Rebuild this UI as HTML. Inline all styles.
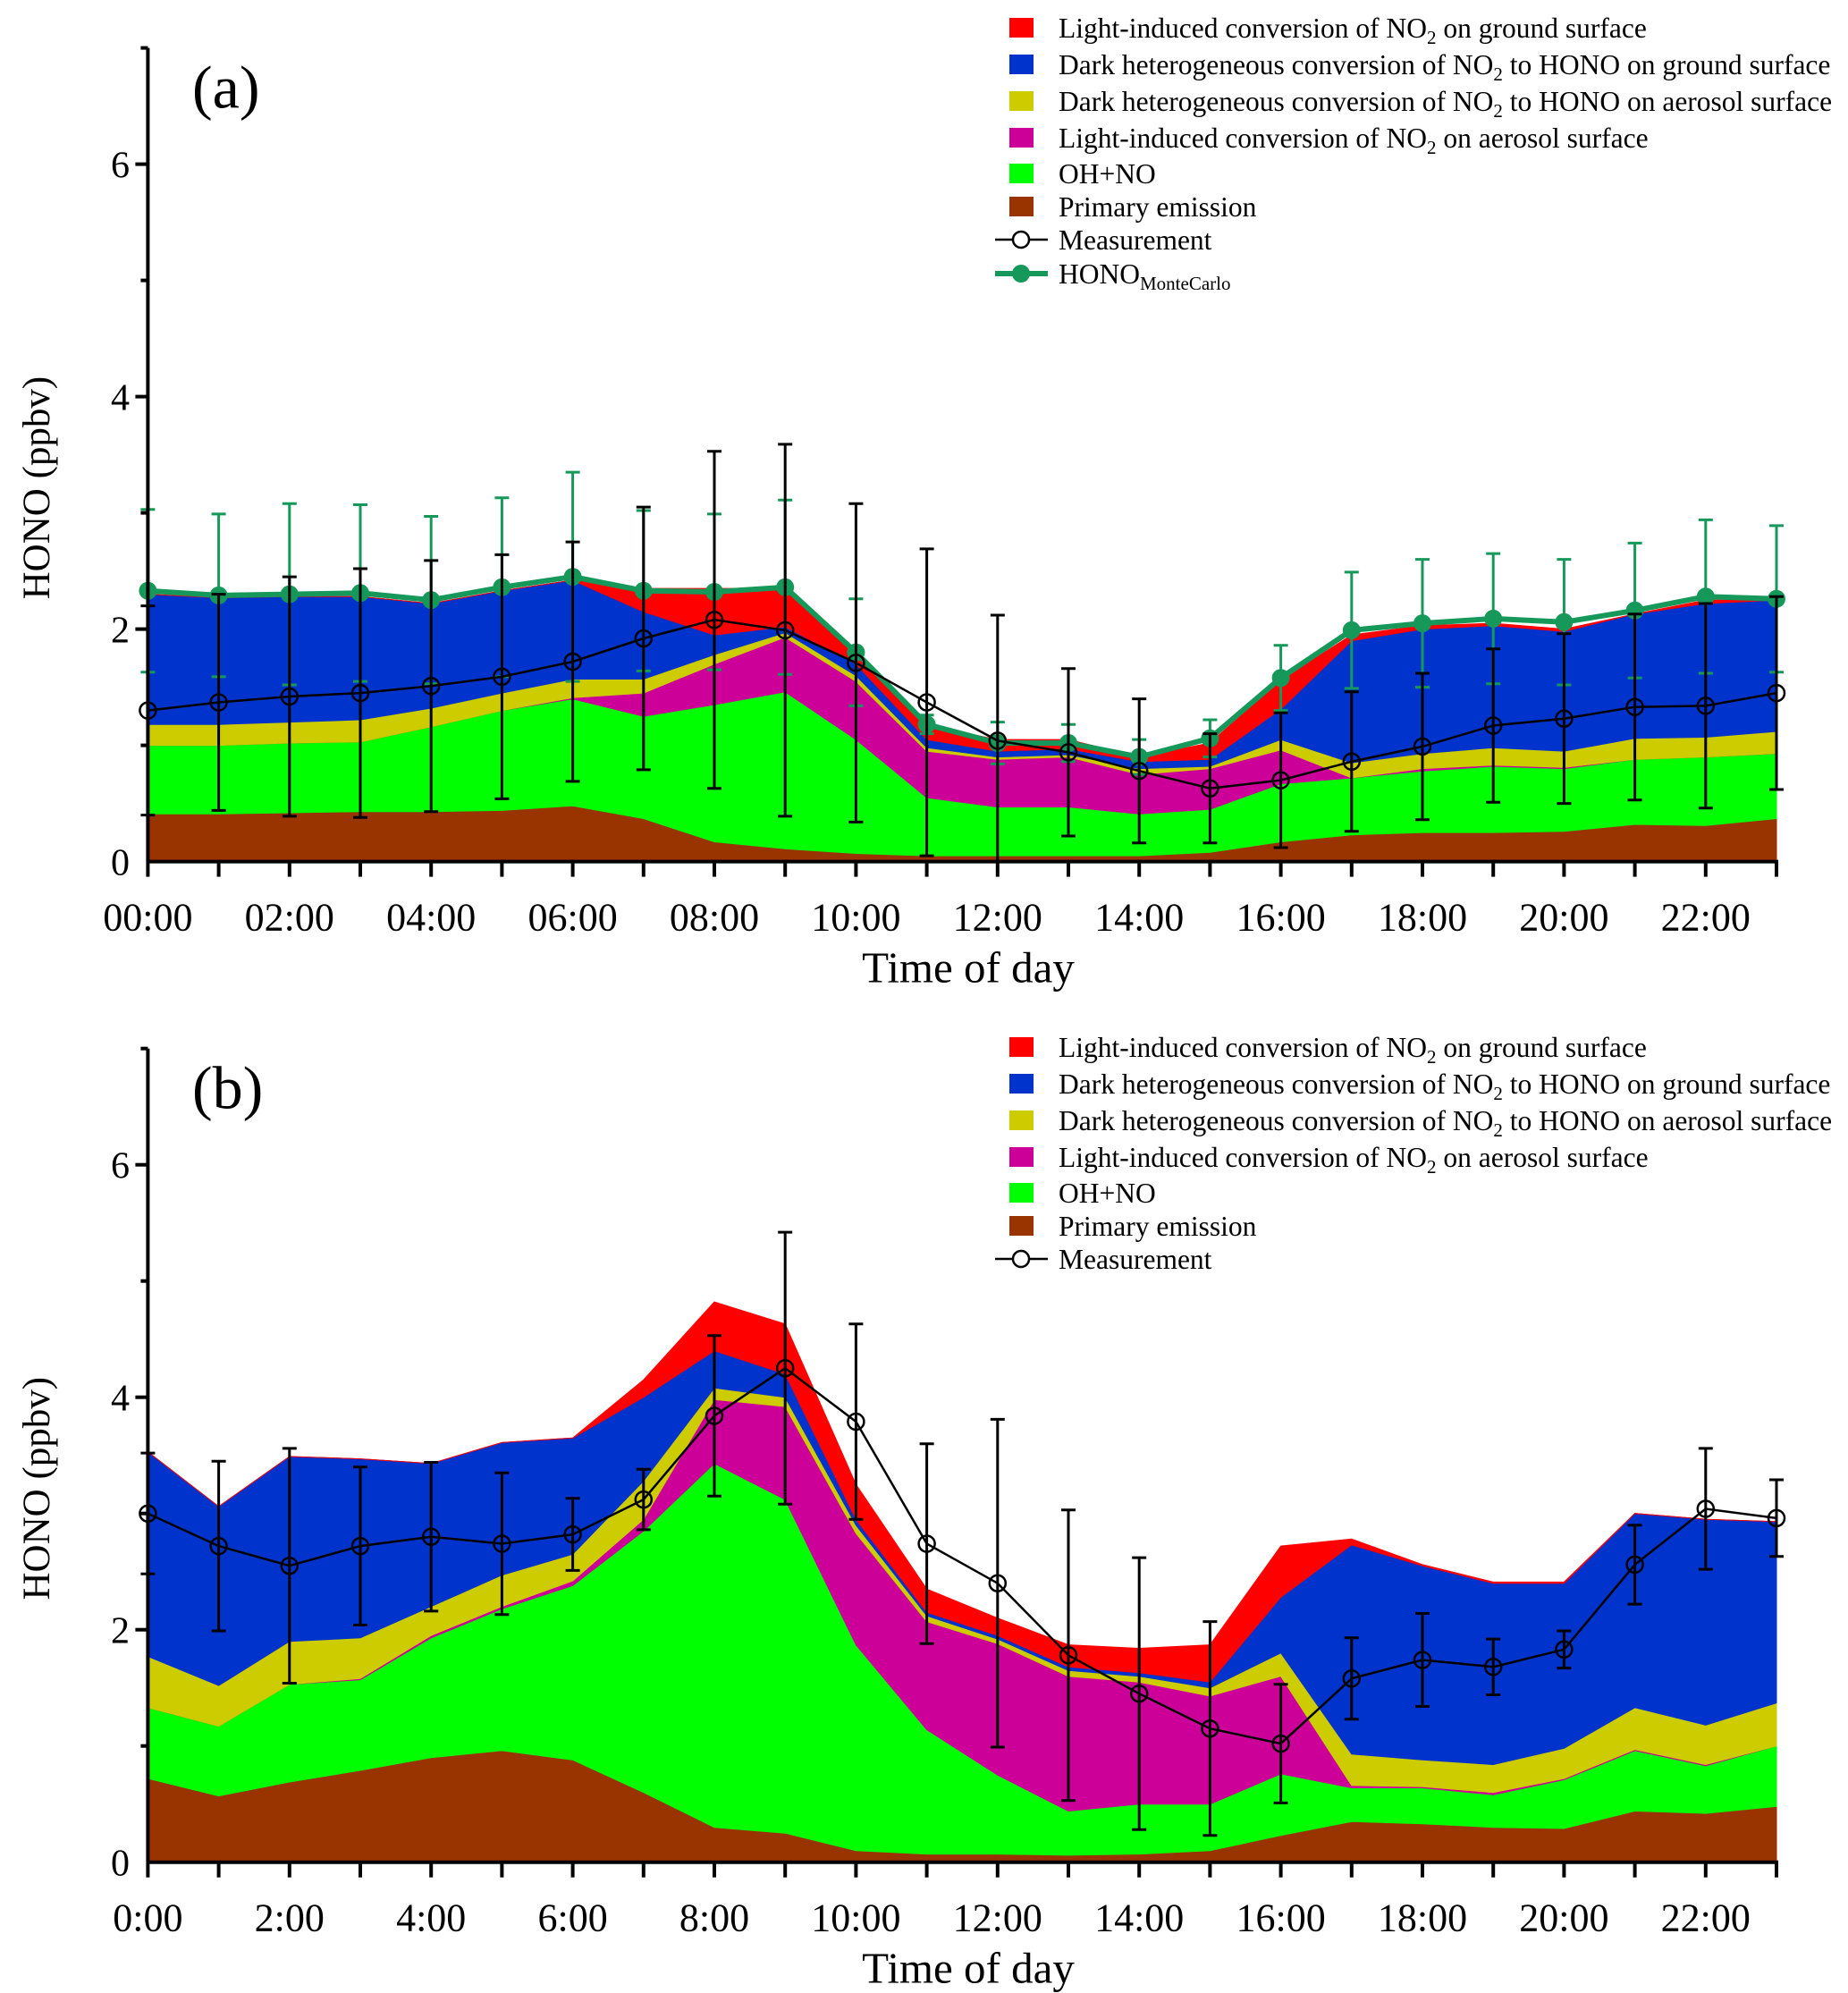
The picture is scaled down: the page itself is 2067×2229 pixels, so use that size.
<!DOCTYPE html>
<html><head><meta charset="utf-8"><style>
html,body{margin:0;padding:0;background:#fff;}
svg{display:block;font-family:"Liberation Serif",serif;}
</style></head><body>
<svg id="chart" width="2067" height="2229" viewBox="0 0 2067 2229" xmlns="http://www.w3.org/2000/svg"></svg>
<script>
const hours = [0,1,2,3,4,5,6,7,8,9,10,11,12,13,14,15,16,17,18,19,20,21,22,23];
const yTicks = [0,2,4,6];
const xTickLabelsA = ["00:00","02:00","04:00","06:00","08:00","10:00","12:00","14:00","16:00","18:00","20:00","22:00"];
const xTickLabelsB = ["0:00","2:00","4:00","6:00","8:00","10:00","12:00","14:00","16:00","18:00","20:00","22:00"];
const seriesNames = ["Primary emission","OH+NO","Light-induced conversion of NO2 on aerosol surface","Dark heterogeneous conversion of NO2 to HONO on aerosol surface","Dark heterogeneous conversion of NO2 to HONO on ground surface","Light-induced conversion of NO2 on ground surface"];
// Panel (a) components
const primaryA = [.41,.41,.42,.43,.43,.44,.48,.37,.17,.11,.07,.05,.05,.05,.05,.08,.17,.23,.25,.25,.26,.32,.31,.37];
const ohnoA = [.59,.59,.60,.60,.73,.86,.92,.88,1.18,1.35,.98,.50,.42,.42,.36,.37,.50,.49,.53,.57,.54,.56,.59,.56];
const lightAerA = [0,0,0,0,0,0,.01,.20,.35,.47,.50,.40,.41,.43,.34,.35,.29,0,.02,.01,.01,0,0,0];
const darkAerA = [.18,.18,.18,.19,.16,.15,.16,.12,.08,.04,.05,.03,.02,.02,.05,.02,.09,.13,.13,.15,.14,.18,.17,.19];
const darkGrdA = [1.12,1.09,1.08,1.06,.90,.88,.85,.58,.17,.05,.10,.07,.05,.05,.06,.06,.26,1.05,1.07,1.05,1.03,1.07,1.15,1.13];
const lightGrdA = [0,0,0,0,0,0,0,.20,.40,.33,.08,.12,.10,.08,.04,.14,.25,.05,.03,.02,.02,0,.03,0];
const measA = [1.3,1.37,1.42,1.45,1.51,1.59,1.72,1.92,2.08,1.99,1.71,1.37,1.04,0.94,0.78,0.63,0.7,0.86,0.99,1.17,1.23,1.33,1.34,1.45];
const measSdA = [.9,.93,1.03,1.07,1.08,1.05,1.03,1.13,1.45,1.6,1.37,1.32,1.08,.72,.62,.47,.58,.6,.63,.66,.73,.8,.88,.83];
const mcA = [2.33,2.29,2.3,2.31,2.25,2.36,2.45,2.33,2.32,2.36,1.8,1.18,1.02,1.02,0.9,1.06,1.58,1.99,2.05,2.09,2.06,2.16,2.28,2.26];
const mcSdA = [.7,.7,.78,.76,.72,.77,.9,.69,.67,.75,.46,.08,.18,.16,.15,.16,.28,.5,.55,.56,.54,.58,.66,.63];
// Panel (b) components
const primaryB = [.72,.57,.69,.79,.9,.96,.88,.6,.3,.25,.1,.07,.07,.06,.07,.1,.23,.35,.33,.3,.29,.44,.42,.48];
const ohnoB = [.61,.60,.84,.78,1.03,1.22,1.50,2.25,3.13,2.87,1.77,1.07,.68,.38,.43,.40,.53,.29,.31,.28,.42,.52,.41,.52];
const lightAerB = [0,0,0,.01,.02,.02,.04,.10,.55,.80,.96,.93,1.13,1.16,1.05,.93,.84,.02,.01,.02,.01,.01,.01,0];
const darkAerB = [.44,.35,.37,.35,.25,.27,.23,.33,.10,.08,.07,.05,.04,.05,.05,.07,.20,.27,.23,.24,.26,.36,.34,.37];
const darkGrdB = [1.76,1.54,1.59,1.54,1.23,1.14,1.0,.72,.32,.2,.05,.03,.03,.03,.03,.05,.48,1.8,1.67,1.56,1.42,1.67,1.77,1.56];
const lightGrdB = [0,0,0,0,0,0,0,.15,.42,.43,.30,.20,.15,.19,.21,.32,.44,.05,.01,.01,.01,0,0,0];
const measB = [3.0,2.72,2.55,2.72,2.8,2.74,2.82,3.12,3.84,4.25,3.79,2.74,2.4,1.78,1.45,1.15,1.02,1.58,1.74,1.68,1.83,2.56,3.04,2.96];
const measSdB = [.52,.73,1.01,.68,.64,.61,.31,.26,.69,1.17,.84,.86,1.41,1.25,1.17,.92,.51,.35,.4,.24,.16,.34,.52,.33];

const NS = "http://www.w3.org/2000/svg";
const svg = document.getElementById("chart");
const colors = ["#993300","#00ff00","#cc0099","#cccc00","#0033cc","#ff0000"];
function mk(tag, attrs, parent){ const e=document.createElementNS(NS,tag); for(const k in attrs) e.setAttribute(k,attrs[k]); (parent||svg).appendChild(e); return e; }

function panel(p){
  const g = mk("g",{});
  
  
  const X = h => 165.4 + h*(1987-165.4)/23;
  const Y = v => p.y0 - v*130;
  let base = hours.map(()=>0);
  p.stack.forEach((s,i)=>{
    const top = base.map((b,j)=>b+s[j]);
    let d = "M"+hours.map((h,j)=>X(h)+","+Y(top[j])).join(" L");
    for(let j=hours.length-1;j>=0;j--) d+=" L"+X(hours[j])+","+Y(base[j]);
    const a = mk("path",{d:d+"Z",fill:colors[i],stroke:colors[i],"stroke-width":1},g);
    
    
    base = top;
  });
  if(p.mc){
    const mg = mk("g",{},g);
    
    
    hours.forEach((h,j)=>{
      const x=X(h), t=Y(p.mc[j]+p.mcSd[j]), b=Y(p.mc[j]-p.mcSd[j]);
      mk("path",{d:`M${x},${t}V${b}M${x-8},${t}H${x+8}M${x-8},${b}H${x+8}`,stroke:"#16985a","stroke-width":3,fill:"none"},mg);
    });
    mk("polyline",{points:hours.map((h,j)=>X(h)+","+Y(p.mc[j])).join(" "),fill:"none",stroke:"#16985a","stroke-width":6},mg);
    hours.forEach((h,j)=>{ mk("circle",{cx:X(h),cy:Y(p.mc[j]),r:10,fill:"#16985a"},mg); });
  }
  const meg = mk("g",{},g);
  
  
  hours.forEach((h,j)=>{
    const x=X(h), t=Y(p.meas[j]+p.sd[j]), b=Y(Math.max(0,p.meas[j]-p.sd[j]));
    mk("path",{d:`M${x},${t}V${b}M${x-8},${t}H${x+8}M${x-8},${b}H${x+8}`,stroke:"#000","stroke-width":3,fill:"none"},meg);
  });
  mk("polyline",{points:hours.map((h,j)=>X(h)+","+Y(p.meas[j])).join(" "),fill:"none",stroke:"#000","stroke-width":2.5},meg);
  hours.forEach((h,j)=>{ mk("circle",{cx:X(h),cy:Y(p.meas[j]),r:9,fill:"none",stroke:"#000","stroke-width":2.5},meg); });
  const ax = mk("g",{},g);
  
  
  mk("line",{x1:165.4,y1:Y(7),x2:165.4,y2:p.y0,stroke:"#000","stroke-width":4},ax);
  mk("line",{x1:164,y1:p.y0,x2:1989,y2:p.y0,stroke:"#000","stroke-width":4},ax);
  for(let v=1;v<=7;v++){ const big=v%2==0; mk("line",{x1:165.4-(big?14:8),y1:Y(v),x2:165.4,y2:Y(v),stroke:"#000","stroke-width":4},ax); }
  yTicks.forEach(v=>{ const t=mk("text",{x:145,y:Y(v)+15,"text-anchor":"end","font-size":42},ax); t.textContent=v; });
  hours.forEach(h=>{ mk("line",{x1:X(h),y1:p.y0,x2:X(h),y2:p.y0+17,stroke:"#000","stroke-width":4},ax); });
  p.xl.forEach((l,i)=>{ const t=mk("text",{x:X(i*2),y:p.y0+77,"text-anchor":"middle","font-size":44},ax); t.textContent=l; });
  const xt=mk("text",{x:1083,y:p.y0+135,"text-anchor":"middle","font-size":49},g); xt.textContent="Time of day";
   
  const yt=mk("text",{x:0,y:0,"text-anchor":"middle","font-size":43,transform:`translate(55,${p.y0-418}) rotate(-90)`},g); yt.textContent="HONO (ppbv)";
   
  const pl=mk("text",{x:215,y:p.y0-843,"font-size":68},g); pl.textContent=p.label;
   
  const lg = mk("g",{},g);
  
  
  const rows = p.ly;
  const items = [
    [5,'Light-induced conversion of NO<tspan font-size="21" dy="7">2</tspan><tspan dy="-7"> on ground surface</tspan>'],
    [4,'Dark heterogeneous conversion of NO<tspan font-size="21" dy="7">2</tspan><tspan dy="-7"> to HONO on ground surface</tspan>'],
    [3,'Dark heterogeneous conversion of NO<tspan font-size="21" dy="7">2</tspan><tspan dy="-7"> to HONO on aerosol surface</tspan>'],
    [2,'Light-induced conversion of NO<tspan font-size="21" dy="7">2</tspan><tspan dy="-7"> on aerosol surface</tspan>'],
    [1,'OH+NO'],[0,'Primary emission']];
  items.forEach((it,i)=>{
    const e = mk("g",{},lg);
    
    
    mk("rect",{x:1129,y:p.ly0+rows[i]-11,width:27,height:22,fill:colors[it[0]]},e);
    const t=mk("text",{x:1184,y:p.ly0+rows[i]+11,"font-size":31.5},e); t.innerHTML=it[1];
  });
  const em = mk("g",{},lg);
  
  
  const my=p.ly0+rows[6];
  mk("line",{x1:1113,y1:my,x2:1172,y2:my,stroke:"#000","stroke-width":2.5},em);
  mk("circle",{cx:1142,cy:my,r:9,fill:"#fff",stroke:"#000","stroke-width":2.5},em);
  const mt=mk("text",{x:1184,y:my+11,"font-size":31.5},em); mt.textContent="Measurement";
  if(p.mc){
    const ec = mk("g",{},lg);
    
    
    const cy=p.ly0+rows[7];
    mk("line",{x1:1113,y1:cy,x2:1172,y2:cy,stroke:"#16985a","stroke-width":6},ec);
    mk("circle",{cx:1142,cy:cy,r:10,fill:"#16985a"},ec);
    const ct=mk("text",{x:1184,y:cy+11,"font-size":31.5},ec); ct.innerHTML='HONO<tspan font-size="21" dy="7">MonteCarlo</tspan>';
  }
}
panel({id:"panel-a",label:"(a)",y0:963.6,stack:[primaryA,ohnoA,lightAerA,darkAerA,darkGrdA,lightGrdA],meas:measA,sd:measSdA,mc:mcA,mcSd:mcSdA,xl:xTickLabelsA,ly0:31,ly:[0,41,82,123,163,200,237,275]});
panel({id:"panel-b",label:"(b)",y0:2082.7,stack:[primaryB,ohnoB,lightAerB,darkAerB,darkGrdB,lightGrdB],meas:measB,sd:measSdB,xl:xTickLabelsB,ly0:1171,ly:[0,41,82,123,163,200,237]});
</script>
</body></html>
